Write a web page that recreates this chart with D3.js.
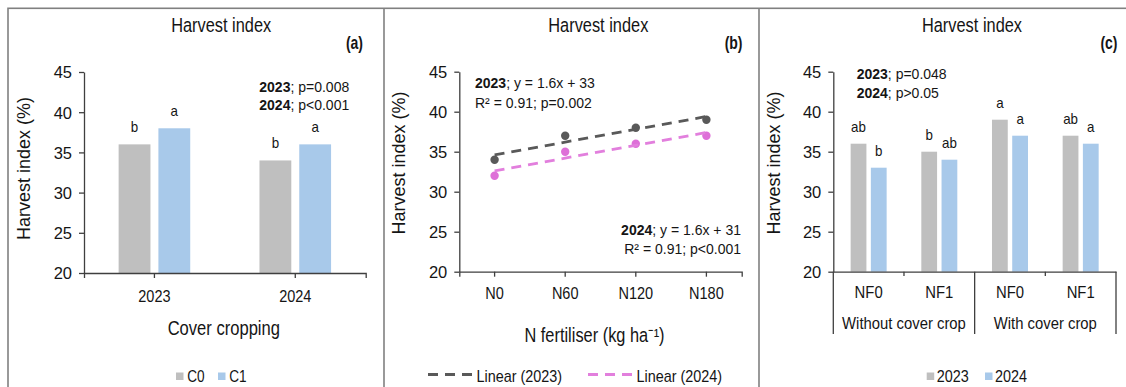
<!DOCTYPE html>
<html>
<head>
<meta charset="utf-8">
<script src="https://cdn.jsdelivr.net/npm/d3@7"></script>
<style>
  body { margin: 0; background: #fff; }
  svg { display: block; font-family: "Liberation Sans", Arial, Helvetica, sans-serif; }
</style>
</head>
<body>
<svg id="chart" width="1126" height="387"></svg>
<script>
// ---------- data ----------
const yTicks = [20, 25, 30, 35, 40, 45];

// (a) cover cropping by year
const yearsA = ["2023", "2024"];
const coverSeries = ["C0", "C1"];
const hiC0 = [36, 34];
const hiC1 = [38, 36];
const lettersC0 = ["b", "b"];
const lettersC1 = ["a", "a"];

// (b) N fertiliser rates
const nLevels = ["N0", "N60", "N120", "N180"];
const hi2023N = [34, 37, 38, 39];
const hi2024N = [32, 35, 36, 37];

// (c) N fertiliser x cover crop
const nfLevels = ["NF0", "NF1", "NF0", "NF1"];
const coverGroups = ["Without cover crop", "With cover crop"];
const hi2023NF = [36, 35, 39, 37];
const hi2024NF = [33, 34, 37, 36];
const letters2023NF = ["ab", "b", "a", "ab"];
const letters2024NF = ["b", "ab", "a", "a"];
const yearSeries = ["2023", "2024"];

// ---------- styling ----------
const INK = "#151515";
const AXIS = "#3f3f3f";
const GREY_BAR = "#BFBFBF";
const BLUE_BAR = "#A8C9EA";
const DARK = "#595959";
const PINK = "#DE6FD8";
const PINK_LINE = "#E27FDD";

const svg = d3.select("#chart");

// text with optional bold/regular runs, condensed horizontally
function label(g, x, y, parts, o = {}) {
  const t = g.append("text")
    .attr("transform", `translate(${x},${y}) scale(${o.sx ?? 0.9},1)`)
    .attr("text-anchor", o.anchor || "start")
    .attr("font-size", o.size || 15)
    .attr("fill", INK);
  const runs = Array.isArray(parts) ? parts : [[parts, o.weight || "normal"]];
  runs.forEach(([s, w]) => t.append("tspan").attr("font-weight", w).text(s));
  return t;
}

function yAxis(g, y, x0) {
  const a = g.append("g").attr("transform", `translate(${x0},0)`)
    .call(d3.axisLeft(y).tickValues(yTicks).tickSize(5).tickSizeOuter(0).tickPadding(7));
  a.attr("font-size", 16.5).attr("font-family", null);
  a.select(".domain").attr("stroke", AXIS).attr("stroke-width", 1.3);
  a.selectAll(".tick line").attr("stroke", AXIS).attr("stroke-width", 1.3);
  a.selectAll(".tick text").attr("fill", INK).attr("dy", "0.36em");
  return a;
}

function yTitle(g, x, y) {
  g.append("text")
    .attr("transform", `translate(${x},${y}) rotate(-90)`)
    .attr("text-anchor", "middle")
    .attr("font-size", 18)
    .attr("fill", INK)
    .text("Harvest index (%)");
}

// ---------- frame ----------
const frame = svg.append("g").attr("fill", "none").attr("stroke", "#808080").attr("stroke-width", 1.6);
frame.append("rect").attr("x", 8).attr("y", 8.3).attr("width", 1130).attr("height", 400);
[384, 759].forEach(xv => frame.append("line").attr("x1", xv).attr("x2", xv).attr("y1", 8.3).attr("y2", 390));

// ---------- panel (a) ----------
{
  const g = svg.append("g");
  const x = d3.scaleBand().domain(yearsA).range([84, 365.7]);
  const x1 = d3.scaleBand().domain(coverSeries).range([-35.8, 35.8]).paddingInner(0.2);
  const y = d3.scaleLinear().domain([20, 45]).range([273, 72]);
  const colour = { C0: GREY_BAR, C1: BLUE_BAR };
  const rows = yearsA.map((yr, i) => ({ yr, vals: [
    { s: "C0", v: hiC0[i], l: lettersC0[i] },
    { s: "C1", v: hiC1[i], l: lettersC1[i] }] }));

  rows.forEach(r => {
    const cx = x(r.yr) + x.bandwidth() / 2;
    r.vals.forEach(d => {
      g.append("rect")
        .attr("x", cx + x1(d.s)).attr("width", x1.bandwidth())
        .attr("y", y(d.v)).attr("height", y(20) - y(d.v))
        .attr("fill", colour[d.s]);
      label(g, cx + x1(d.s) + x1.bandwidth() / 2, y(d.v) - 12, d.l, { anchor: "middle", size: 14.5, sx: 0.92 });
    });
  });

  yAxis(g, y, 84);
  const xa = g.append("g").attr("transform", `translate(0,273)`)
    .call(d3.axisBottom(x).tickSize(5).tickSizeOuter(5));
  xa.attr("font-size", 16.5).attr("font-family", null);
  xa.select(".domain").attr("stroke", AXIS).attr("stroke-width", 1.3);
  xa.selectAll(".tick line").attr("stroke", AXIS).attr("stroke-width", 1.3);
  xa.selectAll(".tick text").attr("fill", INK).attr("y", 28.7).attr("dy", 0)
    .attr("transform", "scale(0.88,1)");

  label(g, 221.2, 31.5, "Harvest index", { anchor: "middle", size: 19.5, sx: 0.84 });
  label(g, 363, 49, "(a)", { anchor: "end", size: 17.5, weight: "bold", sx: 0.8 });
  label(g, 259.3, 92.3, [["2023", "bold"], ["; p=0.008", "normal"]], { size: 14, sx: 1 });
  label(g, 259.3, 110.3, [["2024", "bold"], ["; p<0.001", "normal"]], { size: 14, sx: 1 });
  yTitle(g, 30, 168.5);
  label(g, 223.8, 335, "Cover cropping", { anchor: "middle", size: 19.5, sx: 0.85 });

  // legend
  const lx = [176, 218];
  coverSeries.forEach((s, i) => {
    g.append("rect").attr("x", lx[i]).attr("y", 372.5).attr("width", 7.5).attr("height", 7.5).attr("fill", colour[s]);
    label(g, lx[i] + 11.3, 381.5, s, { size: 16, sx: 0.85 });
  });
}

// ---------- panel (b) ----------
{
  const g = svg.append("g");
  const x = d3.scaleBand().domain(nLevels).range([459.3, 741.7]);
  const y = d3.scaleLinear().domain([20, 45]).range([271.7, 71.7]);
  const px = d => x(d) + x.bandwidth() / 2;

  const series = [
    { name: "Linear (2023)", vals: hi2023N, dot: DARK, line: DARK },
    { name: "Linear (2024)", vals: hi2024N, dot: PINK, line: PINK_LINE }
  ];

  // least-squares fit on treatment order (1..4)
  function fit(vals) {
    const xs = vals.map((_, i) => i + 1);
    const mx = d3.mean(xs), my = d3.mean(vals);
    const b = d3.sum(xs, (xv, i) => (xv - mx) * (vals[i] - my)) / d3.sum(xs, xv => (xv - mx) ** 2);
    return { b, a: my - b * mx };
  }

  yAxis(g, y, 459.3);
  const xa = g.append("g").attr("transform", `translate(0,271.7)`)
    .call(d3.axisBottom(x).tickSize(5).tickSizeOuter(5));
  xa.attr("font-size", 16.5).attr("font-family", null);
  xa.select(".domain").attr("stroke", AXIS).attr("stroke-width", 1.3);
  xa.selectAll(".tick line").attr("stroke", AXIS).attr("stroke-width", 1.3);
  xa.selectAll(".tick text").attr("fill", INK).attr("y", 27.6).attr("dy", 0)
    .attr("transform", "scale(0.88,1)");

  series.forEach(s => {
    g.selectAll(null).data(s.vals).join("circle")
      .attr("cx", (d, i) => px(nLevels[i])).attr("cy", d => y(d))
      .attr("r", 4.2).attr("fill", s.dot);
  });
  series.forEach(s => {
    const f = fit(s.vals);
    const first = 1, last = s.vals.length;
    g.append("line")
      .attr("x1", px(nLevels[0])).attr("y1", y(f.a + f.b * first))
      .attr("x2", px(nLevels[last - 1])).attr("y2", y(f.a + f.b * last))
      .attr("stroke", s.line).attr("stroke-width", 2.8).attr("stroke-dasharray", "10,7");
  });

  label(g, 598.3, 31.5, "Harvest index", { anchor: "middle", size: 19.5, sx: 0.84 });
  label(g, 742.5, 49, "(b)", { anchor: "end", size: 17.5, weight: "bold", sx: 0.8 });
  label(g, 475, 88.2, [["2023", "bold"], ["; y = 1.6x + 33", "normal"]], { size: 14, sx: 1 });
  label(g, 475, 107.5, "R² = 0.91; p=0.002", { size: 14, sx: 1 });
  label(g, 741, 235, [["2024", "bold"], ["; y = 1.6x + 31", "normal"]], { anchor: "end", size: 14, sx: 1 });
  label(g, 741, 254, "R² = 0.91; p<0.001", { anchor: "end", size: 14, sx: 1 });
  yTitle(g, 405, 163);
  label(g, 594.5, 341.7, "N fertiliser (kg ha⁻¹)", { anchor: "middle", size: 19.5, sx: 0.84 });

  // legend
  const lx = [428, 588];
  series.forEach((s, i) => {
    g.append("line").attr("x1", lx[i]).attr("x2", lx[i] + 44).attr("y1", 374.5).attr("y2", 374.5)
      .attr("stroke", s.line).attr("stroke-width", 2.8).attr("stroke-dasharray", "10,7");
    label(g, lx[i] + 48.5, 381.5, s.name, { size: 16, sx: 0.9 });
  });
}

// ---------- panel (c) ----------
{
  const g = svg.append("g");
  const idx = d3.range(nfLevels.length);
  const x = d3.scaleBand().domain(idx).range([833.3, 1116]);
  const x1 = d3.scaleBand().domain(yearSeries).range([-18, 18]).paddingInner(0.22);
  const y = d3.scaleLinear().domain([20, 45]).range([271.7, 71.7]);
  const colour = { "2023": GREY_BAR, "2024": BLUE_BAR };

  idx.forEach(i => {
    const cx = x(i) + x.bandwidth() / 2;
    [
      { s: "2023", v: hi2023NF[i], l: letters2023NF[i] },
      { s: "2024", v: hi2024NF[i], l: letters2024NF[i] }
    ].forEach(d => {
      g.append("rect")
        .attr("x", cx + x1(d.s)).attr("width", x1.bandwidth())
        .attr("y", y(d.v)).attr("height", y(20) - y(d.v))
        .attr("fill", colour[d.s]);
      label(g, cx + x1(d.s) + x1.bandwidth() / 2, y(d.v) - 12, d.l, { anchor: "middle", size: 14.5, sx: 0.92 });
    });
  });

  yAxis(g, y, 833.3);
  const xa = g.append("g").attr("transform", `translate(0,271.7)`)
    .call(d3.axisBottom(x).tickSize(0).tickSizeOuter(0).tickFormat(i => nfLevels[i]));
  xa.attr("font-size", 16.5).attr("font-family", null);
  xa.select(".domain").attr("stroke", AXIS).attr("stroke-width", 1.3);
  xa.selectAll(".tick text").attr("fill", INK).attr("y", 26.6).attr("dy", 0)
    .attr("transform", "scale(0.9,1)");

  // category boundaries: short ticks inside a group, long dividers between groups
  const perGroup = nfLevels.length / coverGroups.length;
  idx.concat([nfLevels.length]).forEach(i => {
    const xv = i < nfLevels.length ? x(i) : x.range()[1];
    const long = i % perGroup === 0;
    g.append("line").attr("x1", xv).attr("x2", xv)
      .attr("y1", 271.7).attr("y2", long ? 334 : 276)
      .attr("stroke", AXIS).attr("stroke-width", 1.3);
  });
  coverGroups.forEach((name, gi) => {
    const a = x(gi * perGroup);
    const b = gi * perGroup + perGroup < nfLevels.length ? x(gi * perGroup + perGroup) : x.range()[1];
    label(g, (a + b) / 2, 329.3, name, { anchor: "middle", size: 16.5, sx: 0.9 });
  });

  label(g, 972, 31.5, "Harvest index", { anchor: "middle", size: 19.5, sx: 0.84 });
  label(g, 1117.5, 49, "(c)", { anchor: "end", size: 17.5, weight: "bold", sx: 0.8 });
  label(g, 856.7, 79, [["2023", "bold"], ["; p=0.048", "normal"]], { size: 14, sx: 1 });
  label(g, 856.7, 98, [["2024", "bold"], ["; p>0.05", "normal"]], { size: 14, sx: 1 });
  yTitle(g, 780, 163);

  // legend
  const lx = [926.7, 985];
  yearSeries.forEach((s, i) => {
    g.append("rect").attr("x", lx[i]).attr("y", 372.5).attr("width", 7.5).attr("height", 7.5).attr("fill", colour[s]);
    label(g, lx[i] + 10, 381.5, s, { size: 16, sx: 0.9 });
  });
}
</script>
</body>
</html>
